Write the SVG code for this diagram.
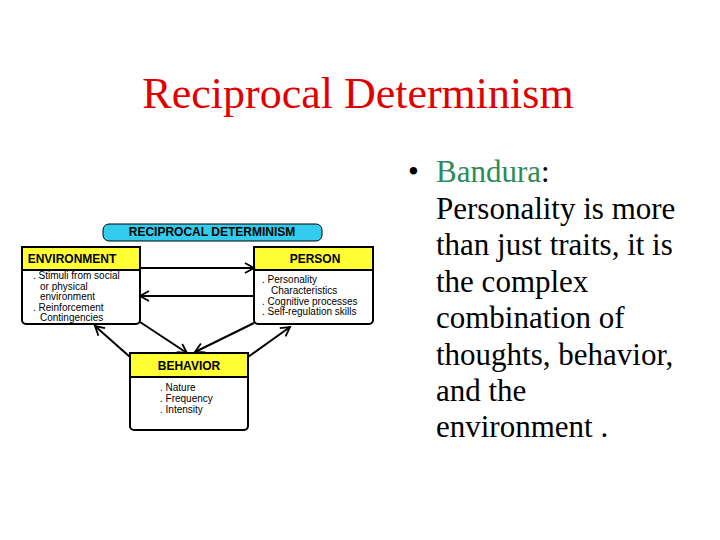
<svg xmlns="http://www.w3.org/2000/svg" width="720" height="540" viewBox="0 0 720 540">
<defs>
<style>
.box{fill:#fff;stroke:#000;stroke-width:2}
.hd{fill:#ffff33;stroke:#000;stroke-width:2}
.ht{font-family:"Liberation Sans",Arial,sans-serif;font-size:12px;font-weight:bold;text-anchor:middle}
.bt{font-family:"Liberation Sans",Arial,sans-serif;font-size:10px}
.rt{font-family:"Liberation Serif","Times New Roman",serif;font-size:31px}
.c{stroke:#000;stroke-width:2;fill:none}
</style>
<marker id="a" markerWidth="12" markerHeight="12" refX="10" refY="6" orient="auto" markerUnits="userSpaceOnUse">
<path d="M1,1 L10,6 L1,11" fill="none" stroke="#000" stroke-width="1.8"/>
</marker>
</defs>
<rect width="720" height="540" fill="#fff"/>
<text x="358" y="108" text-anchor="middle" font-family="Liberation Serif,'Times New Roman',serif" font-size="44" fill="#e00000">Reciprocal Determinism</text>
<g id="bullet">
<text x="408" y="182" class="rt" font-size="28">•</text>
<text class="rt"><tspan x="436" y="182" fill="#2e8b57">Bandura</tspan><tspan>:</tspan>
<tspan x="436" y="219">Personality is more</tspan>
<tspan x="436" y="255">than just traits, it is</tspan>
<tspan x="436" y="292">the complex</tspan>
<tspan x="436" y="328">combination of</tspan>
<tspan x="436" y="365">thoughts,  behavior,</tspan>
<tspan x="436" y="401">and the</tspan>
<tspan x="436" y="437">environment .</tspan></text>
</g>
<g id="title-pill">
<rect x="103" y="224" width="219" height="17" rx="6" fill="#33ccee" stroke="#000" stroke-width="1"/>
<text x="212" y="236" class="ht" font-size="11">RECIPROCAL  DETERMINISM</text>
</g>
<g id="environment">
<rect x="22" y="247" width="118" height="77" rx="4" class="box"/>
<rect x="22" y="247" width="118" height="23" class="hd"/>
<text x="72" y="263" class="ht">ENVIRONMENT</text>
<text class="bt"><tspan x="33" y="279">. Stimuli from social</tspan><tspan x="40" y="290">or physical</tspan><tspan x="40" y="300">environment</tspan><tspan x="33" y="311">. Reinforcement</tspan><tspan x="40" y="321">Contingencies</tspan></text>
</g>
<g id="person">
<rect x="254" y="247" width="119" height="77" rx="4" class="box"/>
<rect x="254" y="247" width="119" height="23" class="hd"/>
<text x="315" y="263" class="ht">PERSON</text>
<text class="bt"><tspan x="262" y="283">. Personality</tspan><tspan x="271" y="294">Characteristics</tspan><tspan x="262" y="305">. Cognitive processes</tspan><tspan x="262" y="315">. Self-regulation skills</tspan></text>
</g>
<g id="behavior">
<rect x="130" y="353" width="118" height="77" rx="4" class="box"/>
<rect x="130" y="353" width="118" height="24" class="hd"/>
<text x="189" y="370" class="ht">BEHAVIOR</text>
<text class="bt"><tspan x="160" y="391">. Nature</tspan><tspan x="160" y="402">. Frequency</tspan><tspan x="160" y="413">. Intensity</tspan></text>
</g>
<g id="connectors">
<line x1="140" y1="268" x2="254" y2="268" class="c" marker-end="url(#a)"/>
<line x1="254" y1="296" x2="140" y2="296" class="c" marker-end="url(#a)"/>
<line x1="140" y1="322" x2="187" y2="353" class="c" marker-end="url(#a)"/>
<line x1="254" y1="323" x2="195" y2="352" class="c" marker-end="url(#a)"/>
<line x1="130" y1="357" x2="95" y2="326" class="c" marker-end="url(#a)"/>
<line x1="248" y1="357" x2="290" y2="327" class="c" marker-end="url(#a)"/>
</g>
</svg>
